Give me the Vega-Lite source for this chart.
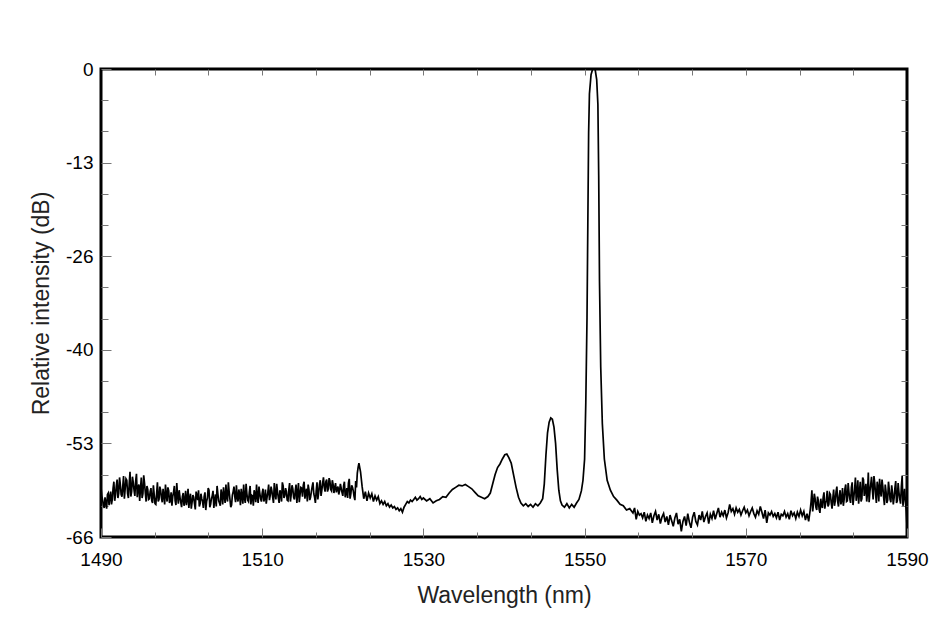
{
  "$schema": "https://vega.github.io/schema/vega-lite/v6.json",
  "autosize": {"type": "none"},
  "width": 806,
  "height": 468,
  "padding": {"left": 101, "top": 69, "right": 38, "bottom": 89},
  "background": "white",
  "config": {
    "view": {"stroke": "#000", "strokeWidth": 3},
    "axis": {"domain": false, "grid": false, "labelFont": "Liberation Sans", "titleFont": "Liberation Sans", "labelColor": "#000", "titleColor": "#222", "tickColor": "#777", "tickWidth": 1, "labelFlush": false, "labelOverlap": false, "titleFontWeight": "normal"}
  },
  "datasets": {
    "spec": [
      {"nm":1490.0,"db":-59.0},{"nm":1490.2,"db":-60.8},{"nm":1490.4,"db":-61.9},{"nm":1490.6,"db":-61.2},{"nm":1490.8,"db":-60.0},
      {"nm":1491.0,"db":-61.5},{"nm":1491.2,"db":-59.6},{"nm":1491.4,"db":-60.7},{"nm":1491.6,"db":-58.2},{"nm":1491.8,"db":-60.1},
      {"nm":1492.0,"db":-57.9},{"nm":1492.2,"db":-59.8},{"nm":1492.4,"db":-58.6},{"nm":1492.6,"db":-60.3},{"nm":1492.8,"db":-57.4},
      {"nm":1493.0,"db":-59.2},{"nm":1493.2,"db":-58.0},{"nm":1493.4,"db":-60.5},{"nm":1493.6,"db":-56.8},{"nm":1493.8,"db":-59.6},
      {"nm":1494.0,"db":-58.3},{"nm":1494.2,"db":-60.2},{"nm":1494.4,"db":-57.1},{"nm":1494.6,"db":-59.0},{"nm":1494.8,"db":-60.9},
      {"nm":1495.0,"db":-57.6},{"nm":1495.2,"db":-59.9},{"nm":1495.4,"db":-58.4},{"nm":1495.6,"db":-61.0},{"nm":1495.8,"db":-59.3},
      {"nm":1496.0,"db":-60.6},{"nm":1496.2,"db":-59.1},{"nm":1496.4,"db":-61.2},{"nm":1496.6,"db":-60.0},{"nm":1496.8,"db":-61.4},
      {"nm":1497.0,"db":-58.3},{"nm":1497.2,"db":-60.7},{"nm":1497.4,"db":-59.4},{"nm":1497.6,"db":-61.1},{"nm":1497.8,"db":-60.2},
      {"nm":1498.0,"db":-58.6},{"nm":1498.2,"db":-61.0},{"nm":1498.4,"db":-59.5},{"nm":1498.6,"db":-60.8},{"nm":1498.8,"db":-61.6},
      {"nm":1499.0,"db":-59.7},{"nm":1499.2,"db":-60.9},{"nm":1499.4,"db":-58.4},{"nm":1499.6,"db":-61.3},{"nm":1499.8,"db":-60.4},
      {"nm":1500.0,"db":-61.8},{"nm":1500.2,"db":-59.8},{"nm":1500.4,"db":-60.9},{"nm":1500.6,"db":-61.5},{"nm":1500.8,"db":-59.2},
      {"nm":1501.0,"db":-60.6},{"nm":1501.2,"db":-62.0},{"nm":1501.4,"db":-60.1},{"nm":1501.6,"db":-61.3},{"nm":1501.8,"db":-59.6},
      {"nm":1502.0,"db":-60.8},{"nm":1502.2,"db":-61.7},{"nm":1502.4,"db":-59.9},{"nm":1502.6,"db":-61.0},{"nm":1502.8,"db":-60.3},
      {"nm":1503.0,"db":-62.2},{"nm":1503.2,"db":-60.5},{"nm":1503.4,"db":-59.4},{"nm":1503.6,"db":-61.4},{"nm":1503.8,"db":-60.2},
      {"nm":1504.0,"db":-61.9},{"nm":1504.2,"db":-60.0},{"nm":1504.4,"db":-58.8},{"nm":1504.6,"db":-60.9},{"nm":1504.8,"db":-61.6},
      {"nm":1505.0,"db":-60.1},{"nm":1505.2,"db":-59.0},{"nm":1505.4,"db":-61.2},{"nm":1505.6,"db":-60.4},{"nm":1505.8,"db":-58.3},
      {"nm":1506.0,"db":-60.7},{"nm":1506.2,"db":-61.5},{"nm":1506.4,"db":-59.6},{"nm":1506.6,"db":-60.3},{"nm":1506.8,"db":-58.7},
      {"nm":1507.0,"db":-61.0},{"nm":1507.2,"db":-60.0},{"nm":1507.4,"db":-59.2},{"nm":1507.6,"db":-61.3},{"nm":1507.8,"db":-60.5},
      {"nm":1508.0,"db":-58.5},{"nm":1508.2,"db":-60.8},{"nm":1508.4,"db":-59.7},{"nm":1508.6,"db":-61.4},{"nm":1508.8,"db":-60.2},
      {"nm":1509.0,"db":-59.4},{"nm":1509.2,"db":-61.1},{"nm":1509.4,"db":-60.3},{"nm":1509.6,"db":-58.9},{"nm":1509.8,"db":-60.6},
      {"nm":1510.0,"db":-59.8},{"nm":1510.2,"db":-61.0},{"nm":1510.4,"db":-59.3},{"nm":1510.6,"db":-60.4},{"nm":1510.8,"db":-58.6},
      {"nm":1511.0,"db":-60.1},{"nm":1511.2,"db":-59.5},{"nm":1511.4,"db":-61.2},{"nm":1511.6,"db":-59.9},{"nm":1511.8,"db":-58.5},
      {"nm":1512.0,"db":-60.5},{"nm":1512.2,"db":-59.4},{"nm":1512.4,"db":-61.0},{"nm":1512.6,"db":-58.8},{"nm":1512.8,"db":-60.2},
      {"nm":1513.0,"db":-59.6},{"nm":1513.2,"db":-60.9},{"nm":1513.4,"db":-58.4},{"nm":1513.6,"db":-60.0},{"nm":1513.8,"db":-59.2},
      {"nm":1514.0,"db":-60.7},{"nm":1514.2,"db":-58.6},{"nm":1514.4,"db":-59.8},{"nm":1514.6,"db":-61.1},{"nm":1514.8,"db":-59.0},
      {"nm":1515.0,"db":-60.3},{"nm":1515.2,"db":-58.2},{"nm":1515.4,"db":-59.7},{"nm":1515.6,"db":-61.0},{"nm":1515.8,"db":-59.3},
      {"nm":1516.0,"db":-60.4},{"nm":1516.2,"db":-58.9},{"nm":1516.4,"db":-59.9},{"nm":1516.6,"db":-61.2},{"nm":1516.8,"db":-58.3},
      {"nm":1517.0,"db":-59.8},{"nm":1517.2,"db":-58.0},{"nm":1517.4,"db":-59.4},{"nm":1517.6,"db":-57.6},{"nm":1517.8,"db":-59.6},
      {"nm":1518.0,"db":-57.9},{"nm":1518.2,"db":-59.2},{"nm":1518.4,"db":-58.1},{"nm":1518.6,"db":-59.5},{"nm":1518.8,"db":-58.6},
      {"nm":1519.0,"db":-59.0},{"nm":1519.2,"db":-59.7},{"nm":1519.4,"db":-58.9},{"nm":1519.6,"db":-59.5},{"nm":1519.8,"db":-59.1},
      {"nm":1520.0,"db":-60.2},{"nm":1520.2,"db":-58.2},{"nm":1520.4,"db":-59.8},{"nm":1520.6,"db":-60.5},{"nm":1520.8,"db":-57.8},
      {"nm":1521.0,"db":-59.9},{"nm":1521.2,"db":-59.0},{"nm":1521.4,"db":-60.3},{"nm":1521.6,"db":-58.1},{"nm":1521.8,"db":-57.0},
      {"nm":1490.1,"db":-60.2},{"nm":1490.3,"db":-61.5},{"nm":1490.5,"db":-60.4},{"nm":1490.7,"db":-62.0},{"nm":1490.9,"db":-59.8},
      {"nm":1491.1,"db":-60.3},{"nm":1491.3,"db":-61.4},{"nm":1491.5,"db":-59.1},{"nm":1491.7,"db":-60.9},{"nm":1491.9,"db":-58.8},
      {"nm":1492.1,"db":-60.5},{"nm":1492.3,"db":-57.6},{"nm":1492.5,"db":-60.0},{"nm":1492.7,"db":-58.9},{"nm":1492.9,"db":-60.6},
      {"nm":1493.1,"db":-57.8},{"nm":1493.3,"db":-59.9},{"nm":1493.5,"db":-58.5},{"nm":1493.7,"db":-60.3},{"nm":1493.9,"db":-57.5},
      {"nm":1494.1,"db":-59.4},{"nm":1494.3,"db":-58.1},{"nm":1494.5,"db":-60.4},{"nm":1494.7,"db":-58.6},{"nm":1494.9,"db":-59.2},
      {"nm":1495.1,"db":-60.5},{"nm":1495.3,"db":-57.3},{"nm":1495.5,"db":-59.8},{"nm":1495.7,"db":-58.8},{"nm":1495.9,"db":-60.7},
      {"nm":1496.1,"db":-59.6},{"nm":1496.3,"db":-60.9},{"nm":1496.5,"db":-58.7},{"nm":1496.7,"db":-61.3},{"nm":1496.9,"db":-59.9},
      {"nm":1497.1,"db":-61.0},{"nm":1497.3,"db":-58.9},{"nm":1497.5,"db":-60.5},{"nm":1497.7,"db":-59.2},{"nm":1497.9,"db":-61.4},
      {"nm":1498.1,"db":-60.1},{"nm":1498.3,"db":-59.0},{"nm":1498.5,"db":-61.2},{"nm":1498.7,"db":-59.7},{"nm":1498.9,"db":-60.3},
      {"nm":1499.1,"db":-58.8},{"nm":1499.3,"db":-61.5},{"nm":1499.5,"db":-60.2},{"nm":1499.7,"db":-59.4},{"nm":1499.9,"db":-61.1},
      {"nm":1500.1,"db":-60.3},{"nm":1500.3,"db":-61.6},{"nm":1500.5,"db":-59.5},{"nm":1500.7,"db":-60.6},{"nm":1500.9,"db":-61.9},
      {"nm":1501.1,"db":-59.9},{"nm":1501.3,"db":-61.1},{"nm":1501.5,"db":-60.4},{"nm":1501.7,"db":-62.1},{"nm":1501.9,"db":-60.2},
      {"nm":1502.1,"db":-59.4},{"nm":1502.3,"db":-61.3},{"nm":1502.5,"db":-60.6},{"nm":1502.7,"db":-61.9},{"nm":1502.9,"db":-59.7},
      {"nm":1503.1,"db":-61.0},{"nm":1503.3,"db":-59.1},{"nm":1503.5,"db":-61.8},{"nm":1503.7,"db":-60.6},{"nm":1503.9,"db":-59.5},
      {"nm":1504.1,"db":-60.8},{"nm":1504.3,"db":-61.7},{"nm":1504.5,"db":-59.9},{"nm":1504.7,"db":-61.2},{"nm":1504.9,"db":-59.3},
      {"nm":1505.1,"db":-61.4},{"nm":1505.3,"db":-60.2},{"nm":1505.5,"db":-58.6},{"nm":1505.7,"db":-61.0},{"nm":1505.9,"db":-59.6},
      {"nm":1506.1,"db":-61.8},{"nm":1506.3,"db":-60.1},{"nm":1506.5,"db":-58.9},{"nm":1506.7,"db":-61.1},{"nm":1506.9,"db":-60.4},
      {"nm":1507.1,"db":-59.3},{"nm":1507.3,"db":-61.5},{"nm":1507.5,"db":-60.3},{"nm":1507.7,"db":-58.6},{"nm":1507.9,"db":-61.2},
      {"nm":1508.1,"db":-59.9},{"nm":1508.3,"db":-61.0},{"nm":1508.5,"db":-58.8},{"nm":1508.7,"db":-60.1},{"nm":1508.9,"db":-61.6},
      {"nm":1509.1,"db":-60.0},{"nm":1509.3,"db":-58.6},{"nm":1509.5,"db":-61.2},{"nm":1509.7,"db":-59.8},{"nm":1509.9,"db":-61.0},
      {"nm":1510.1,"db":-59.2},{"nm":1510.3,"db":-60.6},{"nm":1510.5,"db":-61.3},{"nm":1510.7,"db":-59.7},{"nm":1510.9,"db":-60.8},
      {"nm":1511.1,"db":-58.9},{"nm":1511.3,"db":-60.4},{"nm":1511.5,"db":-58.4},{"nm":1511.7,"db":-60.7},{"nm":1511.9,"db":-59.6},
      {"nm":1512.1,"db":-61.2},{"nm":1512.3,"db":-59.9},{"nm":1512.5,"db":-58.3},{"nm":1512.7,"db":-60.5},{"nm":1512.9,"db":-59.1},
      {"nm":1513.1,"db":-60.8},{"nm":1513.3,"db":-59.4},{"nm":1513.5,"db":-61.0},{"nm":1513.7,"db":-58.7},{"nm":1513.9,"db":-60.4},
      {"nm":1514.1,"db":-59.5},{"nm":1514.3,"db":-61.2},{"nm":1514.5,"db":-58.4},{"nm":1514.7,"db":-60.0},{"nm":1514.9,"db":-59.1},
      {"nm":1515.1,"db":-58.7},{"nm":1515.3,"db":-60.6},{"nm":1515.5,"db":-59.2},{"nm":1515.7,"db":-58.6},{"nm":1515.9,"db":-60.8},
      {"nm":1516.1,"db":-59.6},{"nm":1516.3,"db":-58.3},{"nm":1516.5,"db":-60.4},{"nm":1516.7,"db":-59.5},{"nm":1516.9,"db":-60.7},
      {"nm":1517.1,"db":-58.6},{"nm":1517.3,"db":-60.2},{"nm":1517.5,"db":-58.4},{"nm":1517.7,"db":-59.0},{"nm":1517.9,"db":-58.2},
      {"nm":1518.1,"db":-59.6},{"nm":1518.3,"db":-57.7},{"nm":1518.5,"db":-59.3},{"nm":1518.7,"db":-58.0},{"nm":1518.9,"db":-59.8},
      {"nm":1519.1,"db":-58.4},{"nm":1519.3,"db":-59.2},{"nm":1519.5,"db":-60.0},{"nm":1519.7,"db":-58.5},{"nm":1519.9,"db":-59.7},
      {"nm":1520.1,"db":-58.8},{"nm":1520.3,"db":-60.4},{"nm":1520.5,"db":-59.1},{"nm":1520.7,"db":-58.4},{"nm":1520.9,"db":-60.6},
      {"nm":1521.1,"db":-58.7},{"nm":1521.3,"db":-59.5},{"nm":1521.5,"db":-60.8},{"nm":1521.7,"db":-59.0},{"nm":1521.9,"db":-56.2},
      {"nm":1522.0,"db":-55.6},{"nm":1522.2,"db":-56.8},{"nm":1522.4,"db":-58.9},{"nm":1522.6,"db":-60.6},{"nm":1522.8,"db":-59.6},
      {"nm":1523.0,"db":-60.9},{"nm":1523.2,"db":-59.8},{"nm":1523.4,"db":-60.5},{"nm":1523.6,"db":-59.9},{"nm":1523.8,"db":-61.0},
      {"nm":1524.0,"db":-60.2},{"nm":1524.2,"db":-60.8},{"nm":1524.4,"db":-60.3},{"nm":1524.6,"db":-61.3},{"nm":1524.8,"db":-60.9},
      {"nm":1525.0,"db":-61.4},{"nm":1525.2,"db":-61.0},{"nm":1525.4,"db":-61.6},{"nm":1525.6,"db":-61.3},{"nm":1525.8,"db":-61.8},
      {"nm":1526.0,"db":-61.5},{"nm":1526.2,"db":-61.9},{"nm":1526.4,"db":-61.7},{"nm":1526.6,"db":-62.1},{"nm":1526.8,"db":-61.9},
      {"nm":1527.0,"db":-62.3},{"nm":1527.2,"db":-62.0},{"nm":1527.4,"db":-62.5},{"nm":1527.6,"db":-61.8},{"nm":1527.8,"db":-61.4},
      {"nm":1528.0,"db":-61.0},{"nm":1528.2,"db":-61.2},{"nm":1528.4,"db":-60.8},{"nm":1528.6,"db":-61.0},{"nm":1528.8,"db":-60.7},
      {"nm":1529.0,"db":-60.4},{"nm":1529.2,"db":-60.8},{"nm":1529.4,"db":-60.6},{"nm":1529.6,"db":-60.3},{"nm":1529.8,"db":-60.7},
      {"nm":1530.0,"db":-60.5},{"nm":1530.4,"db":-60.9},{"nm":1530.8,"db":-60.6},{"nm":1531.2,"db":-61.2},{"nm":1531.6,"db":-60.9},
      {"nm":1532.0,"db":-60.7},{"nm":1532.4,"db":-60.3},{"nm":1532.8,"db":-60.4},{"nm":1533.2,"db":-59.8},{"nm":1533.6,"db":-59.3},
      {"nm":1534.0,"db":-59.0},{"nm":1534.4,"db":-58.7},{"nm":1534.8,"db":-58.8},{"nm":1535.2,"db":-58.6},{"nm":1535.6,"db":-58.9},
      {"nm":1536.0,"db":-59.2},{"nm":1536.4,"db":-59.7},{"nm":1536.8,"db":-60.2},{"nm":1537.2,"db":-60.4},{"nm":1537.6,"db":-60.6},
      {"nm":1538.0,"db":-60.3},{"nm":1538.3,"db":-59.8},{"nm":1538.6,"db":-58.5},{"nm":1538.9,"db":-57.2},{"nm":1539.2,"db":-56.2},
      {"nm":1539.5,"db":-55.7},{"nm":1539.8,"db":-55.0},{"nm":1540.1,"db":-54.4},{"nm":1540.35,"db":-54.3},{"nm":1540.6,"db":-54.8},
      {"nm":1540.9,"db":-55.6},{"nm":1541.2,"db":-57.3},{"nm":1541.5,"db":-59.0},{"nm":1541.8,"db":-60.4},{"nm":1542.1,"db":-61.2},
      {"nm":1542.4,"db":-61.6},{"nm":1542.7,"db":-61.3},{"nm":1543.0,"db":-61.7},{"nm":1543.3,"db":-61.4},{"nm":1543.6,"db":-61.8},
      {"nm":1543.9,"db":-61.3},{"nm":1544.2,"db":-61.6},{"nm":1544.5,"db":-61.2},{"nm":1544.8,"db":-60.6},{"nm":1545.0,"db":-58.5},
      {"nm":1545.2,"db":-54.5},{"nm":1545.4,"db":-51.3},{"nm":1545.6,"db":-49.8},{"nm":1545.8,"db":-49.2},{"nm":1546.0,"db":-49.4},
      {"nm":1546.2,"db":-50.5},{"nm":1546.4,"db":-52.8},{"nm":1546.6,"db":-56.5},{"nm":1546.8,"db":-59.4},{"nm":1547.0,"db":-60.9},
      {"nm":1547.2,"db":-61.5},{"nm":1547.5,"db":-61.8},{"nm":1547.8,"db":-61.3},{"nm":1548.1,"db":-61.9},{"nm":1548.4,"db":-61.4},
      {"nm":1548.7,"db":-61.8},{"nm":1549.0,"db":-61.2},{"nm":1549.3,"db":-60.7},{"nm":1549.6,"db":-59.5},{"nm":1549.8,"db":-58.0},
      {"nm":1550.0,"db":-55.0},{"nm":1550.15,"db":-47.0},{"nm":1550.3,"db":-35.0},{"nm":1550.4,"db":-22.0},{"nm":1550.5,"db":-9.0},
      {"nm":1550.6,"db":-3.5},{"nm":1550.8,"db":-0.8},{"nm":1551.0,"db":0.0},{"nm":1551.3,"db":0.0},{"nm":1551.5,"db":-1.5},
      {"nm":1551.65,"db":-5.0},{"nm":1551.75,"db":-15.0},{"nm":1551.85,"db":-30.0},{"nm":1552.0,"db":-42.0},{"nm":1552.2,"db":-50.0},
      {"nm":1552.45,"db":-55.0},{"nm":1552.8,"db":-58.0},{"nm":1553.2,"db":-59.4},{"nm":1553.6,"db":-60.3},{"nm":1554.0,"db":-60.8},
      {"nm":1554.4,"db":-61.4},{"nm":1554.8,"db":-61.6},{"nm":1555.2,"db":-62.2},{"nm":1555.6,"db":-62.0},{"nm":1556.0,"db":-62.6},
      {"nm":1556.2,"db":-61.9},{"nm":1556.4,"db":-63.5},{"nm":1556.6,"db":-62.4},{"nm":1556.8,"db":-62.9},
      {"nm":1557.0,"db":-62.7},{"nm":1557.2,"db":-63.3},{"nm":1557.4,"db":-62.5},{"nm":1557.6,"db":-63.8},{"nm":1557.8,"db":-62.9},
      {"nm":1558.0,"db":-63.4},{"nm":1558.2,"db":-62.6},{"nm":1558.4,"db":-64.0},{"nm":1558.6,"db":-63.0},{"nm":1558.8,"db":-62.4},
      {"nm":1559.0,"db":-63.6},{"nm":1559.2,"db":-62.8},{"nm":1559.4,"db":-64.1},{"nm":1559.6,"db":-63.2},{"nm":1559.8,"db":-62.7},
      {"nm":1560.0,"db":-63.9},{"nm":1560.2,"db":-63.1},{"nm":1560.4,"db":-64.3},{"nm":1560.6,"db":-62.9},{"nm":1560.8,"db":-63.7},
      {"nm":1561.0,"db":-64.5},{"nm":1561.2,"db":-63.3},{"nm":1561.4,"db":-62.6},{"nm":1561.6,"db":-64.2},{"nm":1561.8,"db":-63.5},
      {"nm":1562.0,"db":-65.2},{"nm":1562.2,"db":-63.8},{"nm":1562.4,"db":-63.1},{"nm":1562.6,"db":-64.4},{"nm":1562.8,"db":-62.7},
      {"nm":1563.0,"db":-63.9},{"nm":1563.2,"db":-64.7},{"nm":1563.4,"db":-63.2},{"nm":1563.6,"db":-62.5},{"nm":1563.8,"db":-63.8},
      {"nm":1564.0,"db":-64.3},{"nm":1564.2,"db":-62.9},{"nm":1564.4,"db":-63.6},{"nm":1564.6,"db":-62.4},{"nm":1564.8,"db":-63.9},
      {"nm":1565.0,"db":-63.1},{"nm":1565.2,"db":-62.6},{"nm":1565.4,"db":-64.1},{"nm":1565.6,"db":-62.8},{"nm":1565.8,"db":-63.4},
      {"nm":1566.0,"db":-62.3},{"nm":1566.2,"db":-63.5},{"nm":1566.4,"db":-62.7},{"nm":1566.6,"db":-61.9},{"nm":1566.8,"db":-63.2},
      {"nm":1567.0,"db":-62.5},{"nm":1567.2,"db":-63.0},{"nm":1567.4,"db":-62.2},{"nm":1567.6,"db":-63.3},{"nm":1567.8,"db":-62.6},
      {"nm":1568.0,"db":-61.4},{"nm":1568.2,"db":-62.4},{"nm":1568.4,"db":-62.0},{"nm":1568.6,"db":-62.8},{"nm":1568.8,"db":-61.9},
      {"nm":1569.0,"db":-62.5},{"nm":1569.2,"db":-62.1},{"nm":1569.4,"db":-62.9},{"nm":1569.6,"db":-62.3},{"nm":1569.8,"db":-61.8},
      {"nm":1570.0,"db":-62.6},{"nm":1570.2,"db":-62.2},{"nm":1570.4,"db":-63.0},{"nm":1570.6,"db":-62.4},{"nm":1570.8,"db":-61.9},
      {"nm":1571.0,"db":-62.7},{"nm":1571.2,"db":-63.2},{"nm":1571.4,"db":-62.3},{"nm":1571.6,"db":-62.8},{"nm":1571.8,"db":-61.7},
      {"nm":1572.0,"db":-62.5},{"nm":1572.2,"db":-63.4},{"nm":1572.4,"db":-62.2},{"nm":1572.6,"db":-64.0},{"nm":1572.8,"db":-62.6},
      {"nm":1573.0,"db":-62.9},{"nm":1573.2,"db":-62.4},{"nm":1573.4,"db":-63.1},{"nm":1573.6,"db":-62.7},{"nm":1573.8,"db":-63.3},
      {"nm":1574.0,"db":-62.5},{"nm":1574.2,"db":-63.6},{"nm":1574.4,"db":-62.8},{"nm":1574.6,"db":-63.0},{"nm":1574.8,"db":-62.4},
      {"nm":1575.0,"db":-63.2},{"nm":1575.2,"db":-62.7},{"nm":1575.4,"db":-63.5},{"nm":1575.6,"db":-62.3},{"nm":1575.8,"db":-63.0},
      {"nm":1576.0,"db":-62.6},{"nm":1576.2,"db":-63.4},{"nm":1576.4,"db":-62.5},{"nm":1576.6,"db":-63.1},{"nm":1576.8,"db":-62.2},
      {"nm":1577.0,"db":-63.0},{"nm":1577.2,"db":-62.4},{"nm":1577.4,"db":-63.6},{"nm":1577.6,"db":-62.7},{"nm":1577.8,"db":-63.8},
      {"nm":1578.0,"db":-62.1},{"nm":1578.2,"db":-59.4},{"nm":1578.4,"db":-61.3},{"nm":1578.6,"db":-60.6},{"nm":1578.8,"db":-62.2},
      {"nm":1579.0,"db":-60.9},{"nm":1579.2,"db":-62.6},{"nm":1579.4,"db":-61.5},{"nm":1579.6,"db":-60.4},{"nm":1579.8,"db":-62.0},
      {"nm":1580.0,"db":-60.8},{"nm":1580.2,"db":-61.7},{"nm":1580.4,"db":-59.8},{"nm":1580.6,"db":-61.2},{"nm":1580.8,"db":-60.5},
      {"nm":1581.0,"db":-61.6},{"nm":1581.2,"db":-59.6},{"nm":1581.4,"db":-61.0},{"nm":1581.6,"db":-60.2},{"nm":1581.8,"db":-61.4},
      {"nm":1582.0,"db":-59.1},{"nm":1582.2,"db":-60.7},{"nm":1582.4,"db":-58.6},{"nm":1582.6,"db":-60.9},{"nm":1582.8,"db":-59.7},
      {"nm":1583.0,"db":-61.2},{"nm":1583.2,"db":-58.3},{"nm":1583.4,"db":-60.4},{"nm":1583.6,"db":-57.6},{"nm":1583.8,"db":-59.9},
      {"nm":1584.0,"db":-61.3},{"nm":1584.2,"db":-58.2},{"nm":1584.4,"db":-60.6},{"nm":1584.6,"db":-57.9},{"nm":1584.8,"db":-59.4},
      {"nm":1585.0,"db":-61.0},{"nm":1585.2,"db":-56.9},{"nm":1585.4,"db":-59.6},{"nm":1585.6,"db":-57.5},{"nm":1585.8,"db":-60.7},
      {"nm":1586.0,"db":-58.4},{"nm":1586.2,"db":-61.2},{"nm":1586.4,"db":-59.0},{"nm":1586.6,"db":-57.8},{"nm":1586.8,"db":-60.3},
      {"nm":1587.0,"db":-58.9},{"nm":1587.2,"db":-61.5},{"nm":1587.4,"db":-59.6},{"nm":1587.6,"db":-60.8},{"nm":1587.8,"db":-59.3},
      {"nm":1588.0,"db":-61.1},{"nm":1588.2,"db":-59.8},{"nm":1588.4,"db":-60.5},{"nm":1588.6,"db":-58.1},{"nm":1588.8,"db":-60.9},
      {"nm":1589.0,"db":-59.7},{"nm":1589.2,"db":-61.3},{"nm":1589.4,"db":-57.4},{"nm":1589.6,"db":-60.4},{"nm":1589.8,"db":-61.0},
      {"nm":1590.0,"db":-64.5},
      {"nm":1578.1,"db":-61.0},{"nm":1578.3,"db":-62.4},{"nm":1578.5,"db":-59.9},{"nm":1578.7,"db":-61.8},{"nm":1578.9,"db":-60.3},
      {"nm":1579.1,"db":-62.1},{"nm":1579.3,"db":-60.6},{"nm":1579.5,"db":-61.9},{"nm":1579.7,"db":-59.7},{"nm":1579.9,"db":-61.3},
      {"nm":1580.1,"db":-59.5},{"nm":1580.3,"db":-61.4},{"nm":1580.5,"db":-60.0},{"nm":1580.7,"db":-62.0},{"nm":1580.9,"db":-59.3},
      {"nm":1581.1,"db":-60.9},{"nm":1581.3,"db":-58.9},{"nm":1581.5,"db":-61.7},{"nm":1581.7,"db":-59.4},{"nm":1581.9,"db":-60.8},
      {"nm":1582.1,"db":-61.6},{"nm":1582.3,"db":-59.2},{"nm":1582.5,"db":-61.0},{"nm":1582.7,"db":-58.4},{"nm":1582.9,"db":-60.6},
      {"nm":1583.1,"db":-59.0},{"nm":1583.3,"db":-61.5},{"nm":1583.5,"db":-59.3},{"nm":1583.7,"db":-60.9},{"nm":1583.9,"db":-58.0},
      {"nm":1584.1,"db":-59.7},{"nm":1584.3,"db":-61.0},{"nm":1584.5,"db":-57.6},{"nm":1584.7,"db":-60.2},{"nm":1584.9,"db":-58.5},
      {"nm":1585.1,"db":-59.8},{"nm":1585.3,"db":-61.1},{"nm":1585.5,"db":-58.6},{"nm":1585.7,"db":-59.3},{"nm":1585.9,"db":-57.4},
      {"nm":1586.1,"db":-59.9},{"nm":1586.3,"db":-58.2},{"nm":1586.5,"db":-61.0},{"nm":1586.7,"db":-59.5},{"nm":1586.9,"db":-57.9},
      {"nm":1587.1,"db":-60.4},{"nm":1587.3,"db":-58.6},{"nm":1587.5,"db":-61.2},{"nm":1587.7,"db":-58.2},{"nm":1587.9,"db":-60.7},
      {"nm":1588.1,"db":-58.7},{"nm":1588.3,"db":-61.4},{"nm":1588.5,"db":-59.1},{"nm":1588.7,"db":-61.2},{"nm":1588.9,"db":-58.4},
      {"nm":1589.1,"db":-60.6},{"nm":1589.3,"db":-58.9},{"nm":1589.5,"db":-61.6},{"nm":1589.7,"db":-59.2},{"nm":1589.9,"db":-62.3}
    ]
  },
  "data": {"name": "spec"},
  "layer": [
    {
      "mark": {"type": "line", "color": "#000", "strokeWidth": 1.7, "clip": true},
      "encoding": {
        "x": {"field": "nm", "type": "quantitative", "scale": {"domain": [1490, 1590], "nice": false, "zero": false},
              "axis": {"orient": "bottom", "values": [1490, 1510, 1530, 1550, 1570, 1590], "format": "d", "tickSize": -9, "labelPadding": 22, "labelFontSize": 19, "title": "Wavelength (nm)", "titleFontSize": 23, "titlePadding": 15}},
        "y": {"field": "db", "type": "quantitative", "scale": {"domain": [-66, 0], "nice": false, "zero": false},
              "axis": {"orient": "left", "values": [0, -13.2, -26.4, -39.6, -52.8, -66], "labelExpr": "'' + round(datum.value)", "tickSize": -10, "labelPadding": 18, "labelFontSize": 19, "title": "Relative intensity (dB)", "titleFontSize": 23, "titlePadding": 12}}
      }
    },
    {
      "mark": {"type": "line", "opacity": 0},
      "encoding": {
        "x": {"field": "nm", "type": "quantitative",
              "axis": {"orient": "bottom", "values": [1496.667, 1503.333, 1516.667, 1523.333, 1536.667, 1543.333, 1556.667, 1563.333, 1576.667, 1583.333], "labels": false, "tickSize": -5, "title": null}},
        "y": {"field": "db", "type": "quantitative",
              "axis": {"orient": "left", "values": [-4.4, -8.8, -17.6, -22, -30.8, -35.2, -44, -48.4, -57.2, -61.6], "labels": false, "tickSize": -7, "title": null}}
      }
    },
    {
      "mark": {"type": "line", "opacity": 0},
      "encoding": {
        "x": {"field": "nm", "type": "quantitative",
              "axis": {"orient": "top", "values": [1496.667, 1503.333, 1510, 1516.667, 1523.333, 1530, 1536.667, 1543.333, 1550, 1556.667, 1563.333, 1570, 1576.667, 1583.333], "labels": false, "tickSize": -6, "title": null}},
        "y": {"field": "db", "type": "quantitative",
              "axis": {"orient": "right", "values": [-4.4, -8.8, -13.2, -17.6, -22, -26.4, -30.8, -35.2, -39.6, -44, -48.4, -52.8, -57.2, -61.6], "labels": false, "tickSize": -6, "title": null}}
      }
    }
  ],
  "resolve": {"axis": {"x": "independent", "y": "independent"}}
}
